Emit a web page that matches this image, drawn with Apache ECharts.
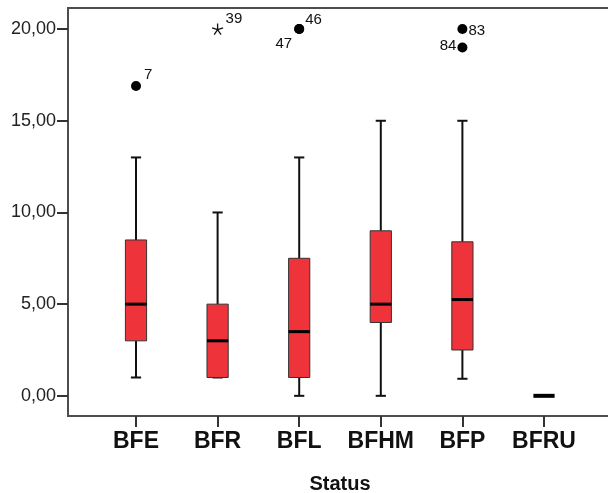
<!DOCTYPE html>
<html>
<head>
<meta charset="utf-8">
<script src="https://cdn.jsdelivr.net/npm/echarts@6/dist/echarts.min.js"></script>
<style>
html,body{margin:0;padding:0;background:#fff;}
#chart{width:608px;height:493px;}
</style>
</head>
<body>
<div id="chart"></div>
<script>
// ---- data ----
var categories = ['BFE', 'BFR', 'BFL', 'BFHM', 'BFP', 'BFRU'];
var whiskerLow  = [1, 1, 0, 0, 0.93, 0];
var q1          = [3, 1, 1, 4, 2.5, 0];
var medians     = [5, 3, 3.5, 5, 5.25, 0];
var q3          = [8.5, 5, 7.5, 9, 8.4, 0];
var whiskerHigh = [13, 10, 13, 15, 15, 0];

var outlierCats = ['BFE', 'BFL', 'BFL', 'BFP', 'BFP'];
var outlierVals = [16.9, 20, 20, 20, 19];
var outlierIds  = ['7', '46', '47', '83', '84'];

var extremeCats = ['BFR'];
var extremeVals = [20];
var extremeIds  = ['39'];

var yTickValues = [0, 5, 10, 15, 20];
var xTitle = 'Status';

// ---- styling helpers ----
var labelPlace = {
  '7':  {position: 'right', distance: 3, offset: [0, -11]},
  '39': {position: 'right', distance: 0, offset: [0, -10]},
  '46': {position: 'right', distance: 1, offset: [0, -9]},
  '47': {position: 'left',  distance: 2, offset: [0, 15]},
  '83': {position: 'right', distance: 1, offset: [0, 2]},
  '84': {position: 'left',  distance: 1, offset: [0, -2]}
};
var FONT = '"Liberation Sans", Arial, sans-serif';

var boxData = categories.map(function (c, i) {
  return [i, whiskerLow[i], q1[i], medians[i], q3[i], whiskerHigh[i]];
});

function pointItems(cats, vals, ids) {
  return vals.map(function (v, k) {
    var p = labelPlace[ids[k]] || {position: 'right', distance: 2, offset: [0, 0]};
    return {
      value: [categories.indexOf(cats[k]), v],
      label: {
        show: true, formatter: ids[k], position: p.position, distance: p.distance,
        offset: p.offset, fontFamily: FONT, fontSize: 15, color: '#111'
      }
    };
  });
}

function renderBox(params, api) {
  var i = api.value(0);
  var vLo = api.value(1), vQ1 = api.value(2), vQ3 = api.value(4), vHi = api.value(5);
  var lo = api.coord([i, vLo]);
  var b1 = api.coord([i, vQ1]);
  var md = api.coord([i, api.value(3)]);
  var b3 = api.coord([i, vQ3]);
  var hi = api.coord([i, vHi]);
  var band = api.size([1, 0])[0];
  var bw = band * 0.26, cw = band * 0.125;
  var x = md[0];
  var children = [];
  var lineStyle = {stroke: '#111', lineWidth: 2};
  var zeroSpread = vQ3 <= vQ1 && vHi <= vLo;
  if (vHi > vQ3) {
    children.push({type: 'line', shape: {x1: x, y1: hi[1], x2: x, y2: b3[1]}, style: lineStyle});
    children.push({type: 'line', shape: {x1: x - cw / 2, y1: hi[1], x2: x + cw / 2, y2: hi[1]}, style: lineStyle});
  }
  if (!zeroSpread) {
    if (vLo < vQ1) {
      children.push({type: 'line', shape: {x1: x, y1: b1[1], x2: x, y2: lo[1]}, style: lineStyle});
    }
    children.push({type: 'line', shape: {x1: x - cw / 2, y1: lo[1], x2: x + cw / 2, y2: lo[1]}, style: lineStyle});
    children.push({type: 'rect', shape: {x: x - bw / 2, y: b3[1], width: bw, height: b1[1] - b3[1]},
      style: {fill: '#EF333A', stroke: '#333', lineWidth: 1}});
  }
  children.push({type: 'line', shape: {x1: x - bw / 2, y1: md[1], x2: x + bw / 2, y2: md[1]},
    style: {stroke: '#000', lineWidth: zeroSpread ? 4 : 3}});
  return {type: 'group', children: children};
}

var yMin = -1.1, yMax = 21.15;

var option = {
  animation: false,
  backgroundColor: '#fff',
  grid: [
    {left: 68, top: 8, width: 544, height: 408, outerBoundsMode: 'none', containLabel: false,
      show: true, borderColor: '#4d4d4d', borderWidth: 2, backgroundColor: 'transparent'},
    {left: 95.2, top: 8, width: 489.6, height: 408, outerBoundsMode: 'none', containLabel: false}
  ],
  xAxis: [
    {gridIndex: 0, type: 'value', min: 0, max: 1, show: false},
    {
      gridIndex: 1, type: 'category', data: categories, boundaryGap: true,
      axisLine: {show: false, onZero: false},
      axisTick: {show: true, alignWithLabel: true, length: 11, lineStyle: {color: '#333', width: 2}},
      axisLabel: {interval: 0, margin: 14, fontFamily: FONT, fontSize: 23, fontWeight: 'bold', color: '#111'},
      splitLine: {show: false},
      name: xTitle, nameLocation: 'middle', nameGap: 58,
      nameTextStyle: {fontFamily: FONT, fontSize: 20, fontWeight: 'bold', color: '#111'}
    }
  ],
  yAxis: [
    {
      gridIndex: 0, type: 'value', min: yMin, max: yMax,
      axisLine: {show: false, onZero: false},
      axisTick: {show: true, length: 11, customValues: yTickValues, lineStyle: {color: '#333', width: 2}},
      axisLabel: {margin: 12, customValues: yTickValues, fontFamily: FONT, fontSize: 18, color: '#222',
        formatter: function (v) { return v.toFixed(2).replace('.', ','); }},
      splitLine: {show: false}
    },
    {gridIndex: 1, type: 'value', min: yMin, max: yMax, show: false, splitLine: {show: false}}
  ],
  series: [
    {
      type: 'custom', xAxisIndex: 1, yAxisIndex: 1,
      data: boxData, renderItem: renderBox,
      encode: {x: 0, y: [1, 2, 3, 4, 5]}
    },
    {
      type: 'scatter', xAxisIndex: 1, yAxisIndex: 1,
      symbol: 'circle', symbolSize: 10,
      itemStyle: {color: '#000', opacity: 1},
      data: pointItems(outlierCats, outlierVals, outlierIds)
    },
    {
      type: 'scatter', xAxisIndex: 1, yAxisIndex: 1,
      symbol: 'path://M0,0L0,-5M0,0L4.75,-1.55M0,0L2.94,4.05M0,0L-2.94,4.05M0,0L-4.75,-1.55',
      symbolSize: 11,
      itemStyle: {color: 'none', borderColor: '#111', borderWidth: 1.3, opacity: 1},
      data: pointItems(extremeCats, extremeVals, extremeIds)
    }
  ]
};

var chart = echarts.init(document.getElementById('chart'), null, {renderer: 'canvas'});
chart.setOption(option);
</script>
</body>
</html>
